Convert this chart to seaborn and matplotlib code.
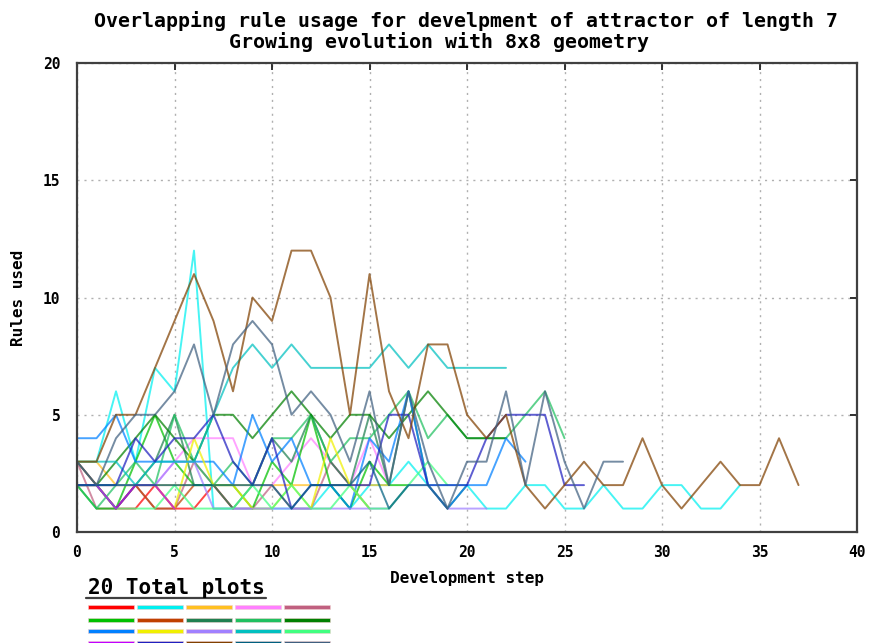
import numpy as np
import pandas as pd
import seaborn as sns
import matplotlib.pyplot as plt
from matplotlib.patches import Rectangle
from matplotlib.lines import Line2D

# Series values (rules used per development step)
s01 = [3, 2, 1, 1, 2, 1, 1, 2, 1]
s02 = [3, 3, 6, 3, 7, 6, 12, 1, 1, 1, 1, 1, 1, 2, 1, 2, 2, 3, 2, 2, 2, 1, 1, 2, 2, 1, 1, 2, 1, 1, 2, 2, 1, 1, 2]
s03 = [3, 3, 2, 2, 2, 2, 2, 2, 2, 2, 2, 2, 2, 2, 2, 2, 2]
s04 = [2, 2, 2, 2, 2, 3, 4, 4, 4, 2, 2, 3, 4, 3, 2, 4, 2]
s05 = [3, 1, 1, 2, 1, 1, 3, 2, 1, 1, 2, 1, 1, 3, 2, 1]
s06 = [2, 1, 1, 3, 5, 3, 2, 2, 2, 1, 3, 2, 5, 2, 1, 3, 2, 2]
s07 = [2, 2, 1, 2, 1, 1, 2]
s08 = [3, 2, 1, 2, 3, 5, 2, 2, 1, 2, 4, 3, 5, 3, 2, 5, 2, 6, 2, 1, 2]
s09 = [2, 1, 2, 3, 2, 5, 3, 2, 3, 2, 4, 4, 5, 3, 4, 4, 5, 6, 4, 5, 4, 4, 4, 5, 6, 4]
s10 = [2, 2, 3, 4, 5, 4, 3, 5, 5, 4, 5, 6, 5, 4, 5, 5, 4, 5, 6, 5, 4, 4, 4]
s11 = [4, 4, 5, 3, 3, 3, 3, 3, 2, 5, 3, 4, 2, 2, 1, 4, 3, 6, 2, 1, 2, 2, 4, 3]
s12 = [2, 2, 2, 2, 2, 1, 4, 2, 2, 1, 1, 2, 1, 4, 2, 1]
s13 = [2, 2, 2, 2, 2, 3, 3, 1, 1, 1, 1, 1, 1, 1, 1, 1, 1, 2, 2, 1, 1, 1]
s14 = [3, 3, 3, 2, 3, 3, 3, 5, 7, 8, 7, 8, 7, 7, 7, 7, 8, 7, 8, 7, 7, 7, 7]
s15 = [2, 2, 1, 1, 1, 2, 1, 1, 1, 2, 1, 2, 1, 1, 2, 1, 1, 2, 3, 2]
s16 = [2, 2, 1, 2, 2, 1]
s17 = [2, 2, 2, 4, 3, 4, 4, 5, 3, 2, 4, 1, 2, 2, 2, 2, 5, 5, 2, 2, 2, 4, 5, 5, 5, 2, 2]
s18 = [3, 3, 5, 5, 7, 9, 11, 9, 6, 10, 9, 12, 12, 10, 5, 11, 6, 4, 8, 8, 5, 4, 5, 2, 1, 2, 3, 2, 2, 4, 2, 1, 2, 3, 2, 2, 4, 2]
s19 = [2, 2, 2, 2, 2, 2, 2, 2, 2, 2, 2, 1, 2, 2, 2, 3, 1, 2, 2, 1]
s20 = [3, 2, 4, 5, 5, 6, 8, 5, 8, 9, 8, 5, 6, 5, 3, 6, 2, 6, 3, 1, 3, 3, 6, 2, 6, 3, 1, 3, 3]

series = [s01, s02, s03, s04, s05, s06, s07, s08, s09, s10,
          s11, s12, s13, s14, s15, s16, s17, s18, s19, s20]

colors = ["#ff0000", "#00f0f0", "#ffc020", "#ff80ff", "#c06080",
          "#00c000", "#c04000", "#208050", "#20c060", "#008000",
          "#0080ff", "#f0f000", "#a080ff", "#00c0c0", "#40ff80",
          "#c000ff", "#2020c0", "#804000", "#006080", "#406080"]

x_ticks = [0, 5, 10, 15, 20, 25, 30, 35, 40]
y_ticks = [0, 5, 10, 15, 20]

# long-form table for seaborn
rows = []
for i, vals in enumerate(series):
    for step, v in enumerate(vals):
        rows.append({"plot": f"p{i+1}", "step": step, "rules": v})
df = pd.DataFrame(rows)

sns.set_style("white")
plt.rcParams['font.family'] = ['DejaVu Sans Mono']
plt.rcParams['font.weight'] = 'bold'
plt.rcParams['text.color'] = 'black'

fig = plt.figure(figsize=(8.73, 6.43), dpi=100)
ax = fig.add_axes([0.0882, 0.1726, 0.9817 - 0.0882, 0.902 - 0.1726])

sns.lineplot(data=df, x="step", y="rules", hue="plot", palette=colors,
             estimator=None, legend=False, alpha=0.72, linewidth=1.4, ax=ax)

ax.set_xlim(0, 40)
ax.set_ylim(0, 20)
ax.set_xticks(x_ticks)
ax.set_yticks(y_ticks)
ax.grid(True, color="#b0b0b0", linestyle=(0, (1.5, 3.5)), linewidth=1.0)
ax.set_axisbelow(True)
for sp in ax.spines.values():
    sp.set_visible(True)
    sp.set_color("#404040")
    sp.set_linewidth(1.6)
ax.tick_params(direction="in", length=5, width=1.3, color="#202020",
               labelcolor="black", top=True, right=True, labelsize=10.5)
ax.tick_params(axis="x", pad=9)
ax.tick_params(axis="y", pad=12)
for lab in ax.get_xticklabels() + ax.get_yticklabels():
    lab.set_fontweight("bold")

ax.set_xlabel("Development step", fontsize=11.5, fontweight="bold", labelpad=8, color="black")
ax.set_ylabel("Rules used", fontsize=11.5, fontweight="bold", labelpad=12, color="black")

fig.text(466 / 873, 1 - 21 / 643, "Overlapping rule usage for develpment of attractor of length 7",
         ha="center", va="center", fontsize=14.3, fontweight="bold")
fig.text(439 / 873, 1 - 42 / 643, "Growing evolution with 8x8 geometry",
         ha="center", va="center", fontsize=14.3, fontweight="bold")

# legend block under the plot
fig.text(88 / 873, 1 - 594 / 643, "20 Total plots", ha="left", va="baseline",
         fontsize=15.1, fontweight="bold")
fig.add_artist(Line2D([86 / 873, 266 / 873], [1 - 598 / 643, 1 - 598 / 643],
                      transform=fig.transFigure, color="#404040", linewidth=1.6))
row_y = [607, 619.5, 631, 642.5]
for k, c in enumerate(colors):
    r, j = divmod(k, 5)
    x0 = (88 + 49 * j) / 873
    y0 = 1 - (row_y[r] + 2) / 643
    fig.add_artist(Rectangle((x0, y0), 46 / 873, 4 / 643, transform=fig.transFigure,
                             facecolor=c, edgecolor="#f0d0d0", linewidth=0.4))

fig.savefig("out.png", dpi=100)
